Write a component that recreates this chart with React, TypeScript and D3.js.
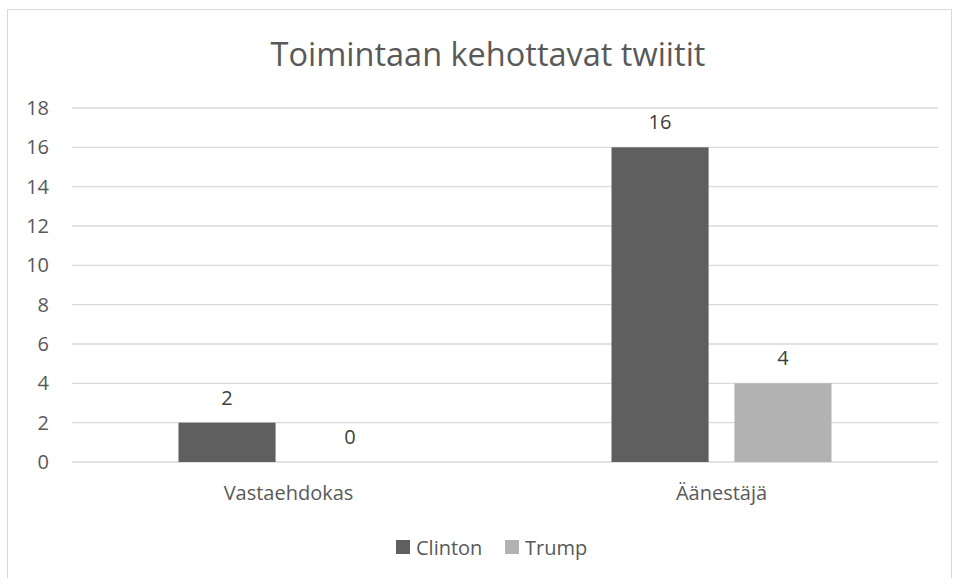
import React from "react";
import * as d3 from "d3";

const categories = ["Vastaehdokas", "Äänestäjä"];
const seriesNames = ["Clinton", "Trump"];
const clinton = [2, 16];
const trump = [0, 4];
const yTicks = [0, 2, 4, 6, 8, 10, 12, 14, 16, 18];
const title = "Toimintaan kehottavat twiitit";

const colors = ["#5f5f5f", "#b2b2b2"];
const FONT = "'Open Sans', 'DejaVu Sans', sans-serif";

export default function App() {
  const W = 956, H = 578;
  const left = 72, right = 938, top = 108, bottom = 462;
  const x = d3.scaleBand<string>().domain(categories).range([left, right]).paddingInner(0).paddingOuter(0);
  const y = d3.scaleLinear().domain([0, 18]).range([bottom, top]);
  const series = [clinton, trump];
  const groupPad = 106.5;
  const inner = d3.scaleBand<string>().domain(seriesNames).range([groupPad, x.bandwidth() - groupPad]).paddingInner(0.21);

  return (
    <svg width={W} height={H} style={{ position: "absolute", left: 0, top: 0, fontFamily: FONT }}>
      <rect x={7.5} y={9.5} width={944} height={580} fill="#fff" stroke="#d9d9d9" />
      <text x={488} y={66} textAnchor="middle" fontSize={32.5} fill="#595959" fontWeight={400}>{title}</text>
      {yTicks.map((t) => (
        <g key={t}>
          <line x1={left} x2={right} y1={y(t)} y2={y(t)} stroke="#d9d9d9" strokeWidth={1.3} />
          <text x={49} y={y(t)} dy="0.35em" textAnchor="end" fontSize={20} fill="#595959">{t}</text>
        </g>
      ))}
      {categories.map((c, i) => (
        <g key={c}>
          {series.map((s, j) => {
            const bx = (x(c) as number) + (inner(seriesNames[j]) as number);
            const bw = inner.bandwidth();
            return (
              <g key={j}>
                <rect x={bx} y={y(s[i])} width={bw} height={bottom - y(s[i])} fill={colors[j]} />
                <text x={bx + bw / 2} y={y(s[i]) - 18} textAnchor="middle" fontSize={20} fill="#404040">{s[i]}</text>
              </g>
            );
          })}
          <text x={(x(c) as number) + x.bandwidth() / 2} y={500} textAnchor="middle" fontSize={20} fill="#595959">{c}</text>
        </g>
      ))}
      {seriesNames.map((n, j) => {
        const lx = j === 0 ? 396 : 505;
        return (
          <g key={n}>
            <rect x={lx} y={540} width={14} height={14} fill={colors[j]} />
            <text x={lx + 20} y={555} fontSize={20} fill="#595959">{n}</text>
          </g>
        );
      })}
    </svg>
  );
}
